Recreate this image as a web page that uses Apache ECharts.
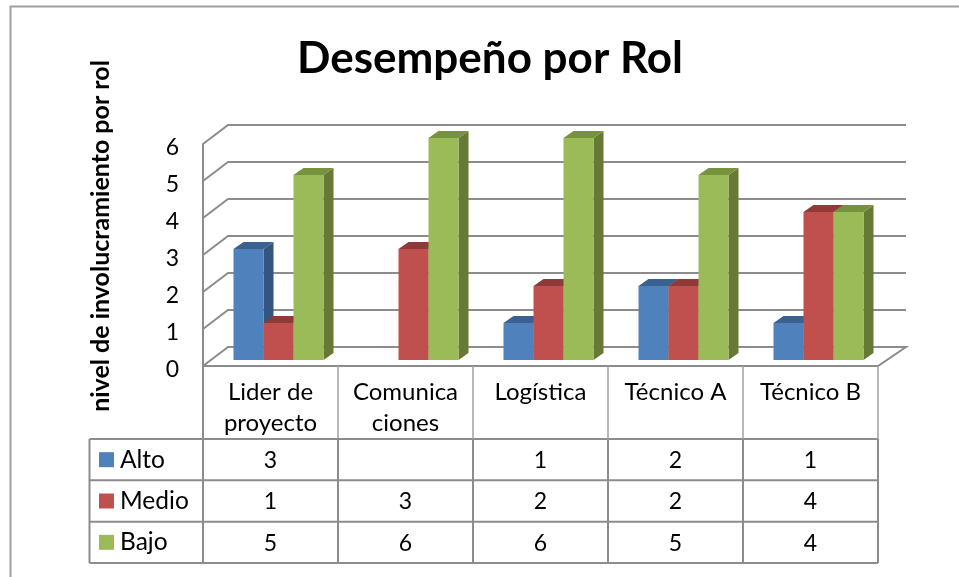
<!DOCTYPE html>
<html>
<head>
<meta charset="utf-8">
<style>
  html, body { margin: 0; padding: 0; background: #fff; }
  #chart { width: 959px; height: 577px; }
</style>
<script src="https://cdn.jsdelivr.net/npm/echarts@6/dist/echarts.min.js"></script>
</head>
<body>
<div id="chart"></div>
<script>
var categories = ["Lider de\nproyecto", "Comunica\nciones", "Logística", "Técnico A", "Técnico B"];
var rows = ["Alto", "Medio", "Bajo"];
var alto = [3, null, 1, 2, 1];
var medio = [1, 3, 2, 2, 4];
var bajo = [5, 6, 6, 5, 4];
var yTicks = [0, 1, 2, 3, 4, 5, 6];

var fontName = "Lato";
var gridColor = "#8c8c8c";
var faces = [
    { front: "#4f81bd", side: "#34557f", top: "#3b6191" },
    { front: "#c0504d", side: "#8a3533", top: "#8f3a39" },
    { front: "#9bbb59", side: "#667a36", top: "#76923c" },
];

// caja 3D: fondo a (25,-19) del frente, barras a (8,-6)
function wallItem(params, api) {
    var v = api.value(0);
    var c = api.coord([0, v]);
    var size = api.size([1, 0]);
    var p = [c[0] - size[0] / 2, c[1]];
    var right = p[0] + size[0] * categories.length + 28;
    var points = [p, [p[0] + 25, p[1] - 19], [right, p[1] - 19]];
    if (v === 0) {
        points.push([right - 28, p[1]], p);
    }
    return {
        type: "polyline",
        shape: { points: points },
        style: { fill: null, stroke: gridColor, lineWidth: 2 },
    };
}

function barItem(serie) {
    return function (params, api) {
        var v = api.value(1);
        if (v == null || isNaN(v)) {
            return;
        }
        var base = api.coord([api.value(0), 0]);
        var top = api.coord([api.value(0), v]);
        var w = 30;
        var dx = 10, dy = 7;
        var x0 = base[0] - 37 + serie * w;
        var x1 = x0 + w;
        var y0 = base[1] - 6;
        var y1 = top[1] - 6;
        return {
            type: "group",
            children: [
                {
                    type: "polygon",
                    shape: { points: [[x1, y0], [x1 + dx, y0 - dy], [x1 + dx, y1 - dy], [x1, y1]] },
                    style: { fill: faces[serie].side },
                },
                {
                    type: "polygon",
                    shape: { points: [[x0, y1], [x0 + dx, y1 - dy], [x1 + dx, y1 - dy], [x1, y1]] },
                    style: { fill: faces[serie].top },
                },
                {
                    type: "rect",
                    shape: { x: x0, y: y1, width: w, height: y0 - y1 },
                    style: { fill: faces[serie].front },
                },
            ],
        };
    };
}

function tableLines(params, api) {
    var i = api.value(0);
    var p = api.coord([i, 0]);
    var size = api.size([1, 1]);
    var left = p[0] - size[0] / 2;
    var rowTop = p[1] - size[1] / 2;
    var children = [];
    var lineStyle = { stroke: gridColor, lineWidth: 2 };
    // vertical a la derecha de cada columna y cabecera
    children.push({
        type: "line",
        shape: { x1: left + size[0], y1: rowTop, x2: left + size[0], y2: rowTop + size[1] * 3 },
        style: lineStyle,
    });
    children.push({
        type: "line",
        shape: { x1: left + size[0], y1: rowTop - 73, x2: left + size[0], y2: rowTop },
        style: { stroke: "#a0a0a0", lineWidth: 1.5 },
    });
    if (i === 0) {
        children.push({
            type: "line",
            shape: { x1: left, y1: rowTop - 73, x2: left, y2: rowTop + size[1] * 3 },
            style: lineStyle,
        });
        children.push({
            type: "line",
            shape: { x1: left - 113.5, y1: rowTop, x2: left - 113.5, y2: rowTop + size[1] * 3 },
            style: lineStyle,
        });
        for (var r = 0; r <= 3; r++) {
            children.push({
                type: "line",
                shape: { x1: left - 113.5, y1: rowTop + size[1] * r, x2: left + size[0] * categories.length, y2: rowTop + size[1] * r },
                style: lineStyle,
            });
        }
    }
    return { type: "group", children: children };
}

function cellItem(params, api) {
    var p = api.coord([api.value(0), api.value(1)]);
    return {
        type: "text",
        x: p[0],
        y: p[1] + 1,
        style: {
            text: String(api.value(2)),
            textAlign: "center",
            textVerticalAlign: "middle",
            fill: "#000",
            font: "23px " + fontName,
        },
    };
}

function xy(values) {
    return values.map(function (v, i) { return [i, v]; });
}

var cells = [];
[alto, medio, bajo].forEach(function (values, r) {
    values.forEach(function (v, i) {
        if (v != null) {
            cells.push([i, r, v]);
        }
    });
});

var richKeys = {
    t: { fontFamily: fontName, fontSize: 24.5, color: "#000", padding: [0, 0, 0, 6] },
};
faces.forEach(function (f, i) {
    richKeys["k" + i] = { width: 15, height: 15, backgroundColor: f.front };
});

var myChart = echarts.init(document.getElementById("chart"));
var option = {
    backgroundColor: "#fff",
    animation: false,
    title: {
        text: "Desempeño por Rol",
        left: 485,
        top: 32,
        textAlign: "center",
        textStyle: { fontFamily: fontName, fontSize: 44, fontWeight: "bold", color: "#000" },
    },
    graphic: [
        {
            type: "polyline",
            shape: { points: [[10.5, 577], [10.5, 6.5], [959, 6.5]] },
            style: { fill: null, stroke: "#a0a0a0", lineWidth: 2 },
        },
    ],
    grid: [
        { left: 203, right: 81, top: 144, height: 222 },
        { left: 203, right: 81, top: 439, height: 124 },
    ],
    xAxis: [
        {
            type: "category",
            gridIndex: 0,
            data: categories,
            axisTick: { show: false },
            axisLine: { show: false },
            axisLabel: {
                interval: 0,
                margin: 11,
                lineHeight: 31,
                verticalAlign: "top",
                fontFamily: fontName,
                fontSize: 24,
                color: "#000",
            },
        },
        {
            type: "category",
            gridIndex: 1,
            data: categories,
            show: false,
        },
    ],
    yAxis: [
        {
            type: "value",
            gridIndex: 0,
            min: 0,
            max: 6,
            interval: 1,
            name: "nivel de involucramiento por rol",
            nameLocation: "middle",
            nameGap: 90,
            nameRotate: 90,
            nameTextStyle: {
                fontFamily: fontName,
                fontSize: 25,
                fontWeight: "bold",
                color: "#000",
                padding: [0, 0, 0, 38],
            },
            splitLine: { show: false },
            axisTick: { show: false },
            axisLine: { show: true, lineStyle: { color: gridColor, width: 2 } },
            axisLabel: {
                margin: 24,
                verticalAlign: "top",
                lineHeight: 8,
                fontFamily: fontName,
                fontSize: 23,
                color: "#000",
            },
        },
        {
            type: "category",
            gridIndex: 1,
            inverse: true,
            data: rows,
            axisTick: { show: false },
            axisLine: { show: false },
            splitLine: { show: false },
            axisLabel: {
                margin: 104,
                align: "left",
                formatter: function (value) {
                    return "{k" + rows.indexOf(value) + "|}{t|" + value + "}";
                },
                rich: richKeys,
            },
        },
    ],
    series: [
        {
            name: "pared",
            type: "custom",
            xAxisIndex: 0,
            yAxisIndex: 0,
            silent: true,
            z: 1,
            renderItem: wallItem,
            data: yTicks.map(function (v) { return [v]; }),
            encode: { y: 0 },
        },
        {
            name: "Alto",
            type: "custom",
            xAxisIndex: 0,
            yAxisIndex: 0,
            z: 2,
            renderItem: barItem(0),
            data: xy(alto),
        },
        {
            name: "Medio",
            type: "custom",
            xAxisIndex: 0,
            yAxisIndex: 0,
            z: 3,
            renderItem: barItem(1),
            data: xy(medio),
        },
        {
            name: "Bajo",
            type: "custom",
            xAxisIndex: 0,
            yAxisIndex: 0,
            z: 4,
            renderItem: barItem(2),
            data: xy(bajo),
        },
        {
            name: "tabla",
            type: "custom",
            xAxisIndex: 1,
            yAxisIndex: 1,
            silent: true,
            z: 5,
            renderItem: tableLines,
            data: categories.map(function (c, i) { return [i]; }),
        },
        {
            name: "valores",
            type: "custom",
            xAxisIndex: 1,
            yAxisIndex: 1,
            silent: true,
            z: 6,
            renderItem: cellItem,
            data: cells,
        },
    ],
};
option && myChart.setOption(option, true);
</script>
</body>
</html>
